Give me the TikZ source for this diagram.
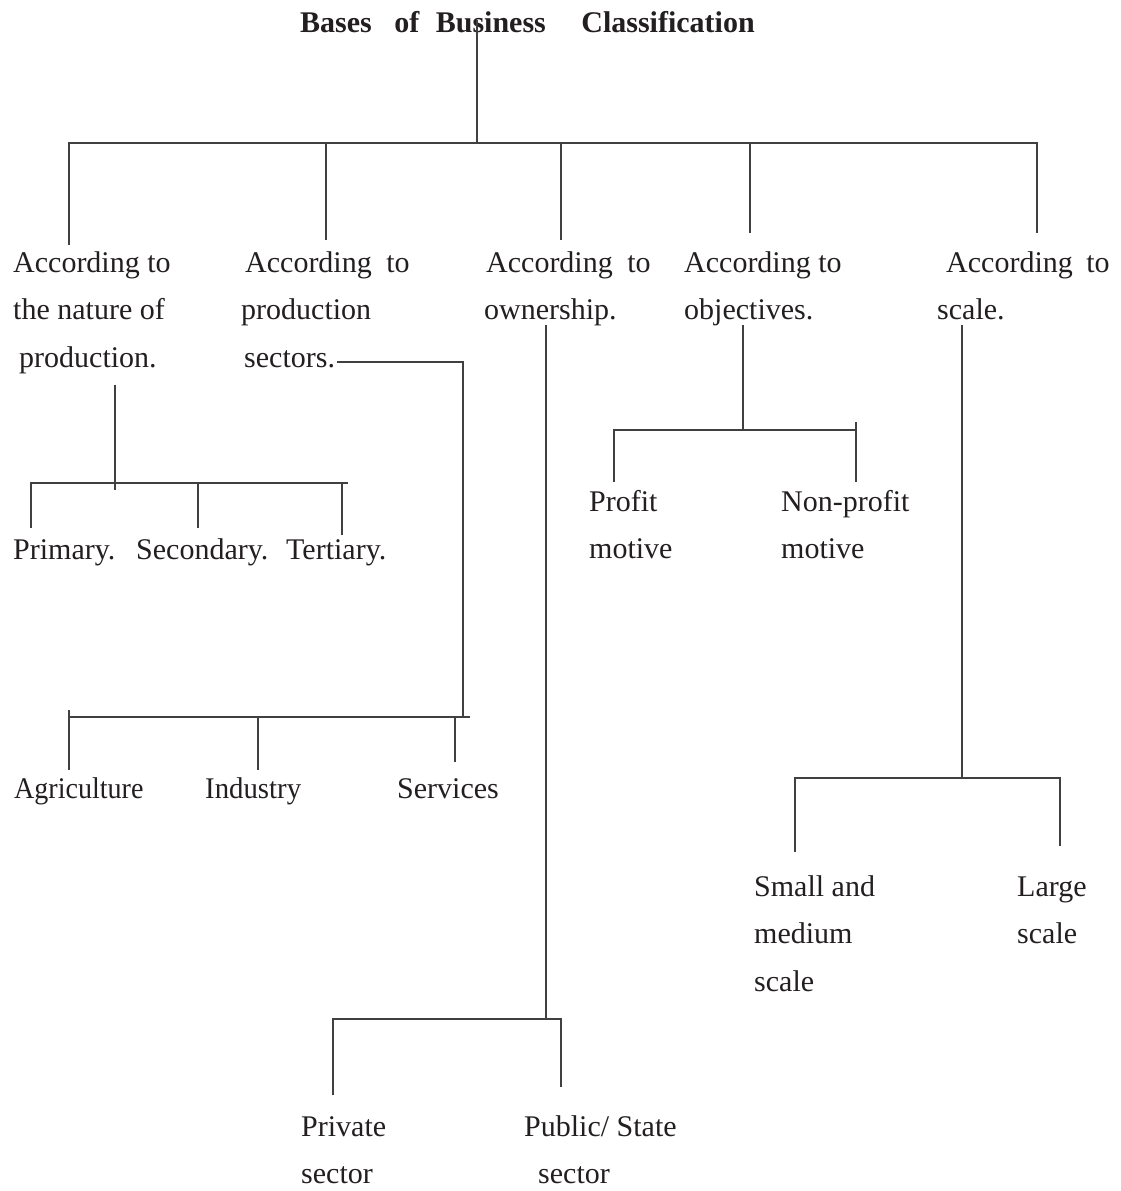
\documentclass[tikz,border=0pt]{standalone}
\usepackage{fontspec}
\setmainfont{Liberation Serif}
\definecolor{ink}{HTML}{231F20}
\definecolor{rule}{HTML}{404040}
\begin{document}
\begin{tikzpicture}[x=1pt,y=-1pt,
  % multi-line labels are anchored at the baseline of their last line
  lbl/.style={anchor=base west, inner sep=0pt, align=left, text=ink,
    font=\fontsize{30}{47.5}\selectfont},
  ttl/.style={anchor=base west, inner sep=0pt, text=ink,
    font=\fontsize{30}{36}\selectfont\bfseries},
  link/.style={draw=rule, line width=1.3pt}]
\useasboundingbox (0,0) rectangle (1120,1191);

% title
\node[ttl] (title) at (300,32) {Bases\ \hspace{15pt}of\ \hspace{9pt}Business\ \hspace{28pt}Classification};

% first level
\node[lbl] (nature) at (13,367) {According to\\the nature of\\\hspace*{6pt}production.};
\node[lbl] (sectors) at (241,367) {\hspace*{4pt}According\ \hspace{7pt}to\\production\\\hspace*{3pt}sectors.};
\node[lbl] (owner) at (484,319.5) {\hspace*{2pt}According\ \hspace{7pt}to\\ownership.};
\node[lbl] (objective) at (684,319.5) {According to\\objectives.};
\node[lbl] (scale) at (937,319.5) {\hspace*{9pt}According\ \hspace{6pt}to\\scale.};

% second level
\node[lbl] (primary) at (13,559) {Primary.};
\node[lbl] (secondary) at (136,559) {Secondary.};
\node[lbl] (tertiary) at (286,559) {Tertiary.};
\node[lbl] (agri) at (14,798) {\scalebox{0.935}[1]{Agriculture}};
\node[lbl] (industry) at (205,798) {\scalebox{0.96}[1]{Industry}};
\node[lbl] (services) at (397,798) {Services};
\node[lbl] (profit) at (589,558.5) {Profit\\motive};
\node[lbl] (nonprofit) at (781,558.5) {Non-profit\\motive};
\node[lbl] (small) at (754,991) {Small and\\medium\\scale};
\node[lbl] (large) at (1017,943.5) {Large\\scale};
\node[lbl] (private) at (301,1183.5) {Private\\sector};
\node[lbl] (public) at (524,1183.5) {Public/ State\\\hspace*{14pt}sector};

% main branch
\coordinate (rootTop) at (477,20);
\coordinate (barL) at (69,143);
\coordinate (barR) at (1037,143);
\coordinate (dNature) at (69,245);
\coordinate (dSectors) at (326,240);
\coordinate (dOwner) at (561,240);
\coordinate (dObjective) at (750,233);
\coordinate (dScale) at (1037,233);
\draw[link] (rootTop) -- (rootTop |- barL);
\draw[link] (dNature) -- (barL) -- (barR) -- (dScale);
\draw[link] (dSectors) -- (dSectors |- barL);
\draw[link] (dOwner) -- (dOwner |- barL);
\draw[link] (dObjective) -- (dObjective |- barL);

% nature of production
\coordinate (natTop) at (115,385);
\coordinate (natEnd) at (115,490);
\coordinate (natBarL) at (31,483);
\coordinate (natBarR) at (348,483);
\coordinate (dPrimary) at (31,528);
\coordinate (dSecondary) at (198,528);
\coordinate (dTertiary) at (342,535);
\draw[link] (natTop) -- (natEnd);
\draw[link] (dPrimary) -- (natBarL) -- (natBarR);
\draw[link] (dSecondary) -- (dSecondary |- natBarL);
\draw[link] (dTertiary) -- (dTertiary |- natBarL);

% production sectors
\coordinate (secStart) at (337,362);
\coordinate (secCorner) at (463,362);
\coordinate (secBarL) at (69,717);
\coordinate (secBarR) at (470,717);
\coordinate (tAgri) at (69,710);
\coordinate (dAgri) at (69,770);
\coordinate (dIndustry) at (258,770);
\coordinate (dServices) at (455,762);
\draw[link] (secStart) -- (secCorner) -- (secCorner |- secBarL);
\draw[link] (secBarL) -- (secBarR);
\draw[link] (tAgri) -- (dAgri);
\draw[link] (dIndustry) -- (dIndustry |- secBarL);
\draw[link] (dServices) -- (dServices |- secBarL);

% ownership
\coordinate (ownTop) at (546,325);
\coordinate (ownBarL) at (333,1019);
\coordinate (ownBarR) at (561,1019);
\coordinate (dPrivate) at (333,1095);
\coordinate (dPublic) at (561,1087);
\draw[link] (ownTop) -- (ownTop |- ownBarL);
\draw[link] (dPrivate) -- (ownBarL) -- (ownBarR) -- (dPublic);

% objectives
\coordinate (objTop) at (743,325);
\coordinate (objBarL) at (614,430);
\coordinate (objBarR) at (856,430);
\coordinate (dProfit) at (614,482);
\coordinate (tNonprofit) at (856,422);
\coordinate (dNonprofit) at (856,482);
\draw[link] (objTop) -- (objTop |- objBarL);
\draw[link] (dProfit) -- (objBarL) -- (objBarR);
\draw[link] (tNonprofit) -- (dNonprofit);

% scale
\coordinate (scTop) at (962,325);
\coordinate (scBarL) at (795,778);
\coordinate (scBarR) at (1060,778);
\coordinate (dSmall) at (795,852);
\coordinate (dLarge) at (1060,846);
\draw[link] (scTop) -- (scTop |- scBarL);
\draw[link] (dSmall) -- (scBarL) -- (scBarR) -- (dLarge);
\end{tikzpicture}
\end{document}
